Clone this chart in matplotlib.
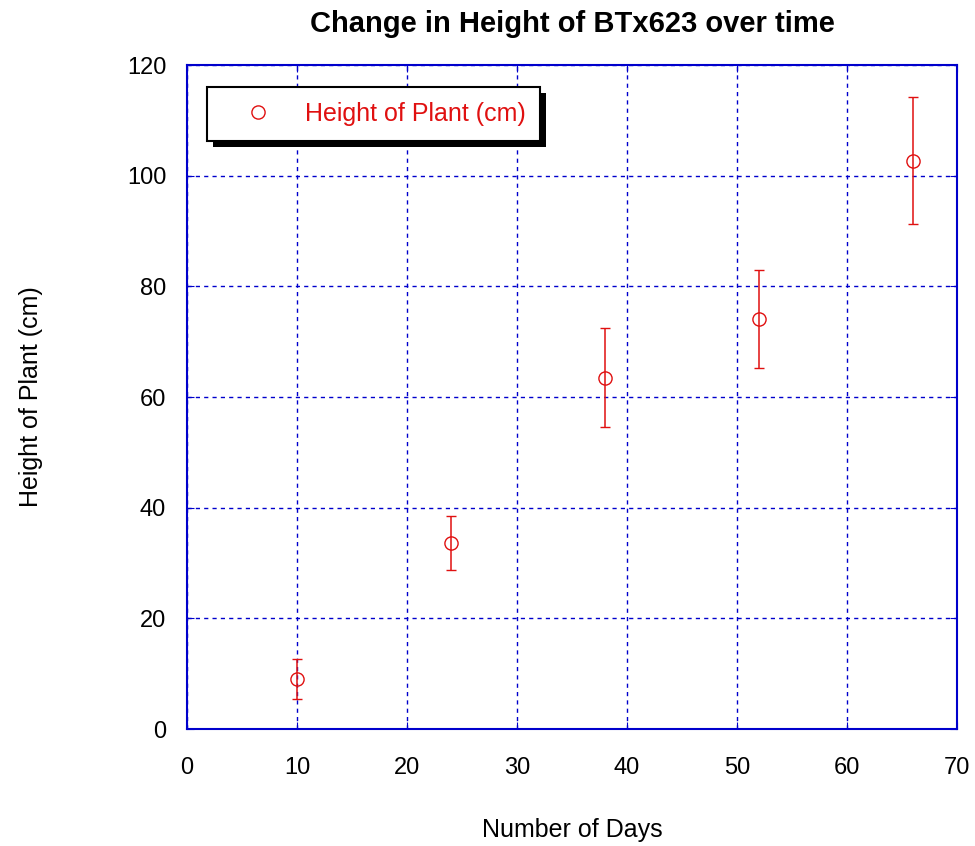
import matplotlib
matplotlib.use("Agg")
import matplotlib.pyplot as plt
from matplotlib.lines import Line2D
from matplotlib.patches import Rectangle

days = [10, 24, 38, 52, 66]
height = [9.1, 33.6, 63.5, 74.1, 102.7]
err = [3.6, 4.9, 9.0, 8.9, 11.5]
xticks = [0, 10, 20, 30, 40, 50, 60, 70]
yticks = [0, 20, 40, 60, 80, 100, 120]
series_label = 'Height of Plant (cm)'

plt.rcParams['font.family'] = ['Liberation Sans', 'DejaVu Sans']

fig = plt.figure(figsize=(9.75, 8.46), dpi=100)
ax = fig.add_axes([187/975, 1-729/846, 770/975, 664/846])

red = '#e01010'
blue = '#0000cc'

ax.errorbar(days, height, yerr=err, fmt='o', mfc='none', mec=red, ecolor=red,
            ms=9.5, mew=1.0, elinewidth=1.1, capsize=3.5, capthick=1.1,
            zorder=3)

ax.set_xlim(0, 70)
ax.set_ylim(0, 120)
ax.set_xticks(xticks)
ax.set_yticks(yticks)
ax.grid(True, color=blue, linestyle=(0, (3, 3)), linewidth=1.0)
for s in ax.spines.values():
    s.set_color(blue)
    s.set_linewidth(1.5)
ax.tick_params(direction='in', length=5, color=blue, labelsize=17,
               top=True, right=True)
ax.tick_params(axis='x', pad=20)
ax.tick_params(axis='y', pad=15)

ax.set_title('Change in Height of BTx623 over time', fontsize=21, fontweight='bold', pad=24)
ax.set_xlabel('Number of Days', fontsize=18, labelpad=28)
ax.set_ylabel('Height of Plant (cm)', fontsize=18, labelpad=60)

handle = Line2D([], [], linestyle='none', marker='o', mfc='none', mec=red, ms=9.5, mew=1.0)
leg = ax.legend([handle], [series_label], loc='upper left', bbox_to_anchor=(0.026, 0.967),
                fontsize=18, frameon=True, fancybox=False,
                borderpad=0.6, handlelength=2.9, handletextpad=0.4, borderaxespad=0)
leg.set_zorder(6)
for t in leg.get_texts():
    t.set_color(red)
leg.get_frame().set_edgecolor('black')
leg.get_frame().set_linewidth(1.5)
leg.get_frame().set_alpha(1)

fig.canvas.draw()
bb = leg.get_window_extent()
shadow = Rectangle((bb.x0 + 6, bb.y0 - 6), bb.width, bb.height, transform=None,
                   facecolor='black', edgecolor='none', zorder=5.9, clip_on=False)
ax.add_artist(shadow)

fig.savefig('out.png', dpi=100)
